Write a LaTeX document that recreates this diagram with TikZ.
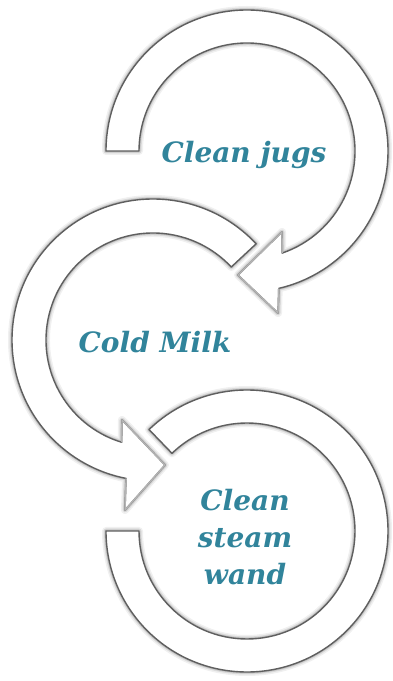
\documentclass[tikz,border=0pt]{standalone}
\usepackage{fontspec}
\newfontfamily\labelfont{DejaVu Serif}
\definecolor{ringedge}{RGB}{95,95,95}
\definecolor{headedge}{RGB}{180,180,180}
\definecolor{labelteal}{RGB}{49,132,155}
\tikzset{
  shadowA/.style={draw=black, draw opacity=0.06, line width=8pt, line join=round},
  shadowB/.style={draw=black, draw opacity=0.09, line width=5pt, line join=round},
  shadowC/.style={draw=black, draw opacity=0.13, line width=2.8pt, line join=round},
  ringbody/.style={fill=white, draw=ringedge, line width=1.4pt, line join=round},
  innerglow/.style={draw=black!25, line width=0.6pt, line join=round},
  headline/.style={draw=headedge, line width=1.4pt, line join=round},
  steplabel/.style={font=\labelfont\bfseries\itshape\fontsize{28}{37}\selectfont, text=labelteal, inner sep=0pt, align=center}
}
\begin{document}
\begin{tikzpicture}[x=1pt,y=1pt]
\useasboundingbox (0,0) rectangle (393,681);
\coordinate (C1) at (247,530);
\coordinate (C2) at (153,341);
\coordinate (C3) at (247,150);
% arrowhead points
\coordinate (A1lb) at (278,368);
\coordinate (A1tip) at (238,406);
\coordinate (A1ub) at (282,449);
\coordinate (A2lb) at (125,171);
\coordinate (A2tip) at (165,216);
\coordinate (A2ub) at (122,261);
\def\PathA{([shift={(180:141)}]C1) arc[start angle=180,end angle=-77,radius=141] -- (A1lb) -- (A1tip) -- (A1ub) -- ([shift={(-71:108)}]C1) arc[start angle=-71,end angle=180,radius=108] -- cycle}
\def\PathB{([shift={(43:141)}]C2) arc[start angle=43,end angle=259,radius=141] -- (A2lb) -- (A2tip) -- (A2ub) -- ([shift={(253:107)}]C2) arc[start angle=253,end angle=43,radius=107] -- cycle}
\def\PathC{([shift={(134:141)}]C3) arc[start angle=134,end angle=-180,radius=141] -- ([shift={(180:108)}]C3) arc[start angle=-180,end angle=134,radius=108] -- cycle}
% shadows
\begin{scope}[shift={(1.5,-2.5)}]
\foreach \p in {\PathA,\PathB,\PathC}{
  \path[shadowA] \p;
  \path[shadowB] \p;
  \path[shadowC] \p;
}
\end{scope}
% bodies
\path[ringbody] \PathC;
\path[ringbody] \PathB;
\path[ringbody] \PathA;
% lighter arrowhead edges
\path[headline] ([shift={(-77:141)}]C1) -- (A1lb) -- (A1tip) -- (A1ub) -- ([shift={(-71:108)}]C1);
\path[headline] ([shift={(259:141)}]C2) -- (A2lb) -- (A2tip) -- (A2ub) -- ([shift={(253:107)}]C2);
% labels
\node[steplabel, anchor=base] (jugs) at (244,518) {Clean jugs};
\node[steplabel, anchor=base] (milk) at (155,328) {Cold Milk};
\node[steplabel] (wand) at (245,144) {Clean\\steam\\wand};
\end{tikzpicture}
\end{document}
